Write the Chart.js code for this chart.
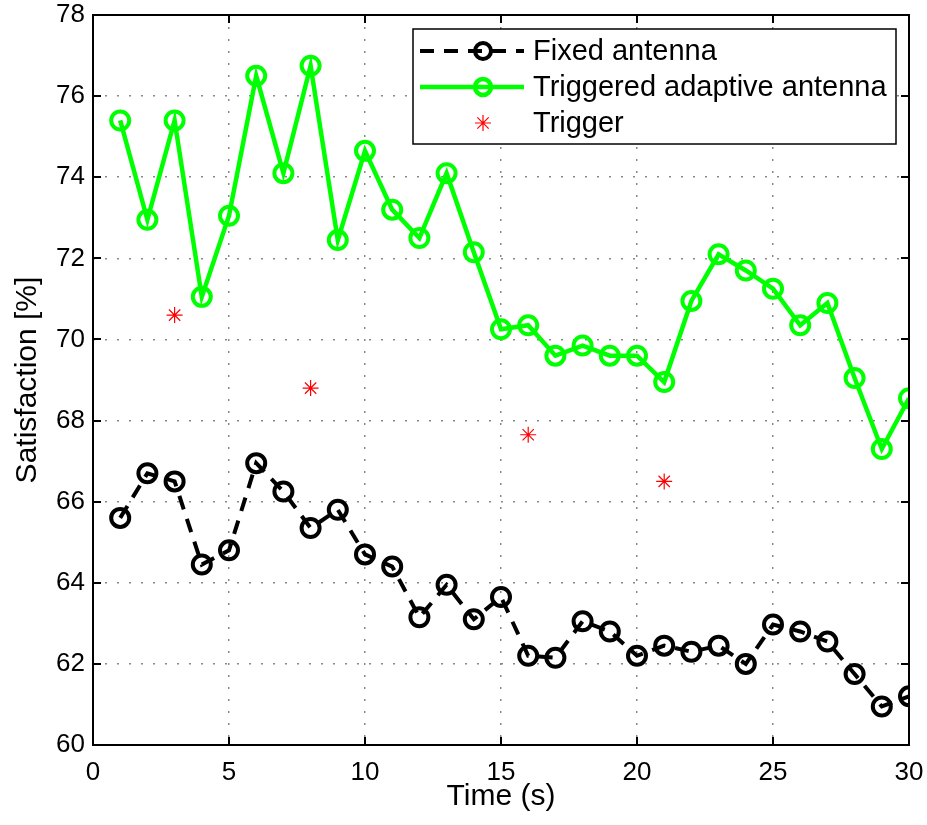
<!DOCTYPE html>
<html>
<head>
<meta charset="utf-8">
<script src="https://cdn.jsdelivr.net/npm/chart.js@4/dist/chart.umd.min.js"></script>
<style>
  body { margin: 0; background: #fff; }
  #wrap { width: 927px; height: 825px; }
</style>
</head>
<body>
<div id="wrap"><canvas id="grafico" width="927" height="825"></canvas></div>
<script>
// Datos
const tiempos = [1,2,3,4,5,6,7,8,9,10,11,12,13,14,15,16,17,18,19,20,21,22,23,24,25,26,27,28,29,30];
const antenaFija = [65.6,66.7,66.5,64.45,64.8,66.95,66.25,65.35,65.8,64.7,64.4,63.15,63.95,63.1,63.65,62.2,62.15,63.05,62.8,62.2,62.45,62.3,62.45,62.0,62.97,62.8,62.55,61.75,60.95,61.2];
const antenaAdaptativa = [75.4,72.95,75.4,71.05,73.05,76.5,74.1,76.75,72.45,74.65,73.2,72.5,74.1,72.15,70.25,70.35,69.6,69.85,69.6,69.6,68.95,70.95,72.1,71.7,71.25,70.35,70.9,69.05,67.3,68.55];
const disparoTiempos = [3, 8, 16, 21];
const disparoValores = [70.6, 68.8, 67.65, 66.5];
const etiquetasSeries = ['Fixed antenna', 'Triggered adaptive antenna', 'Trigger'];

const fuente = '"Liberation Sans", Arial, Helvetica, sans-serif';
const verde = '#00ff00';

function aPuntos(xs, ys) {
    return xs.map((x, i) => ({ x: x, y: ys[i] }));
}

// Caja, marcas interiores y leyenda al estilo MATLAB
const marcoYLeyenda = {
    id: 'marcoYLeyenda',
    afterDraw(chart) {
        const ctx = chart.ctx;
        const a = chart.chartArea;
        const sx = chart.scales.x, sy = chart.scales.y;
        ctx.save();
        ctx.strokeStyle = '#000';
        ctx.lineWidth = 2;
        ctx.setLineDash([]);
        // marcas hacia dentro
        const largo = 8;
        sx.ticks.forEach(t => {
            const px = Math.round(sx.getPixelForValue(t.value));
            ctx.beginPath();
            ctx.moveTo(px, a.bottom); ctx.lineTo(px, a.bottom - largo);
            ctx.moveTo(px, a.top); ctx.lineTo(px, a.top + largo);
            ctx.stroke();
        });
        sy.ticks.forEach(t => {
            const py = Math.round(sy.getPixelForValue(t.value));
            ctx.beginPath();
            ctx.moveTo(a.left, py); ctx.lineTo(a.left + largo, py);
            ctx.moveTo(a.right, py); ctx.lineTo(a.right - largo, py);
            ctx.stroke();
        });
        ctx.strokeRect(a.left, a.top, a.right - a.left, a.bottom - a.top);

        // leyenda
        const lx = 413, ly = 29, lw = 483, lh = 115;
        ctx.fillStyle = '#fff';
        ctx.fillRect(lx, ly, lw, lh);
        ctx.lineWidth = 1.5;
        ctx.strokeRect(lx, ly, lw, lh);
        const filas = [51, 87, 123];
        const mx = 483;
        ctx.font = '29px ' + fuente;
        ctx.textBaseline = 'middle';
        ctx.fillStyle = '#000';
        etiquetasSeries.forEach((txt, i) => ctx.fillText(txt, 533, filas[i] + 1));

        // fila 1: línea discontinua negra
        ctx.strokeStyle = '#000';
        ctx.lineWidth = 4;
        ctx.setLineDash([14, 10]);
        ctx.beginPath(); ctx.moveTo(420, filas[0]); ctx.lineTo(524, filas[0]); ctx.stroke();
        ctx.setLineDash([]);
        ctx.lineWidth = 4;
        ctx.beginPath(); ctx.arc(mx, filas[0], 8, 0, Math.PI * 2); ctx.stroke();

        // fila 2: línea verde
        ctx.strokeStyle = verde;
        ctx.lineWidth = 4.5;
        ctx.beginPath(); ctx.moveTo(420, filas[1]); ctx.lineTo(524, filas[1]); ctx.stroke();
        ctx.beginPath(); ctx.arc(mx, filas[1], 8, 0, Math.PI * 2); ctx.stroke();

        // fila 3: asterisco rojo
        ctx.strokeStyle = '#ff0000';
        ctx.lineWidth = 1.2;
        const r = 8;
        ctx.beginPath();
        for (let k = 0; k < 4; k++) {
            const ang = k * Math.PI / 4;
            ctx.moveTo(mx - r * Math.cos(ang), filas[2] - r * Math.sin(ang));
            ctx.lineTo(mx + r * Math.cos(ang), filas[2] + r * Math.sin(ang));
        }
        ctx.stroke();
        ctx.restore();
    }
};

const ctx = document.getElementById('grafico').getContext('2d');
const grafico = new Chart(ctx, {
    type: 'line',
    data: {
        datasets: [{
            label: etiquetasSeries[0],
            data: aPuntos(tiempos, antenaFija),
            borderColor: '#000',
            borderWidth: 4,
            borderDash: [14, 10],
            pointRadius: 9,
            pointBorderWidth: 4,
            pointBackgroundColor: 'rgba(0,0,0,0)',
            pointBorderColor: '#000',
            tension: 0
        }, {
            label: etiquetasSeries[1],
            data: aPuntos(tiempos, antenaAdaptativa),
            borderColor: verde,
            borderWidth: 4.5,
            pointRadius: 9,
            pointBorderWidth: 4,
            pointBackgroundColor: 'rgba(0,0,0,0)',
            pointBorderColor: verde,
            tension: 0
        }, {
            label: etiquetasSeries[2],
            data: aPuntos(disparoTiempos, disparoValores),
            showLine: false,
            pointStyle: 'star',
            pointRadius: 8,
            pointBorderWidth: 1.2,
            pointBorderColor: '#ff0000',
            pointBackgroundColor: '#ff0000'
        }]
    },
    options: {
        responsive: false,
        animation: false,
        layout: { padding: { left: 0, top: 15, right: 18, bottom: 0 } },
        plugins: {
            legend: { display: false },
            tooltip: { enabled: false }
        },
        scales: {
            x: {
                type: 'linear',
                min: 0,
                max: 30,
                ticks: { stepSize: 5, color: '#000', padding: 12, font: { family: fuente, size: 26 } },
                grid: { color: '#888', lineWidth: 1.5, drawTicks: false },
                border: { display: false, dash: [2, 10] },
                title: { display: true, text: 'Time (s)', color: '#000', font: { family: fuente, size: 30 }, padding: { top: 0, bottom: 10 } },
                afterFit: s => { s.height = 80; s.paddingLeft = 0; s.paddingRight = 0; }
            },
            y: {
                min: 60,
                max: 78,
                ticks: { stepSize: 2, color: '#000', padding: 8, font: { family: fuente, size: 26 } },
                grid: { color: '#888', lineWidth: 1.5, drawTicks: false },
                border: { display: false, dash: [2, 10] },
                title: { display: true, text: 'Satisfaction [%]', color: '#000', font: { family: fuente, size: 30 }, padding: { top: 10, bottom: 0 } },
                afterFit: s => { s.width = 93; s.paddingTop = 0; s.paddingBottom = 0; }
            }
        }
    },
    plugins: [marcoYLeyenda]
});
</script>
</body>
</html>
